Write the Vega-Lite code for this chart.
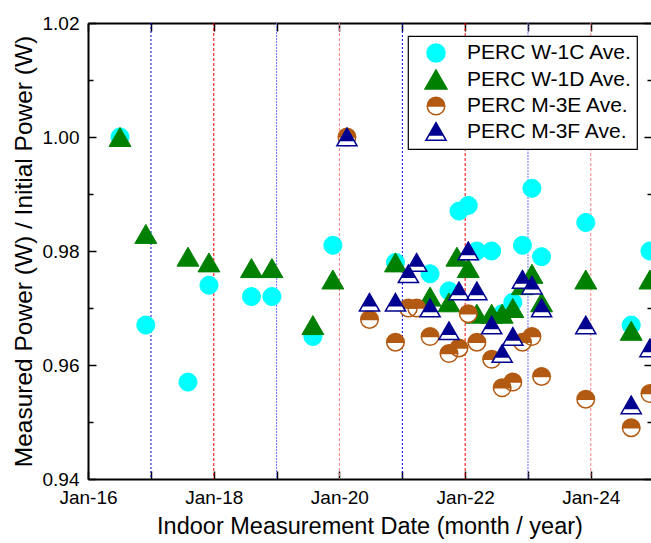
{
  "$schema": "https://vega.github.io/schema/vega-lite/v6.json",
  "width": 563,
  "height": 456,
  "autosize": {"type": "none"},
  "padding": {"left": 88, "top": 23, "right": 0, "bottom": 64},
  "background": "white",
  "config": {
    "view": {"stroke": null},
    "font": "Liberation Sans",
    "axis": {
      "grid": false,
      "domainColor": "black",
      "domainWidth": 2,
      "tickColor": "black",
      "tickWidth": 1.5,
      "labelColor": "black",
      "titleColor": "black",
      "labelFont": "Liberation Sans",
      "titleFont": "Liberation Sans",
      "titleFontWeight": "normal",
      "labelFontSize": 19,
      "labelFlush": false,
      "labelOverlap": false
    },
    "legend": {
      "orient": "none",
      "legendX": 320,
      "legendY": 13,
      "strokeColor": "black",
      "strokeWidth": 1.2,
      "fillColor": "white",
      "padding": 5,
      "rowPadding": 1.5,
      "labelFont": "Liberation Sans",
      "labelFontSize": 21,
      "labelColor": "black",
      "labelLimit": 400,
      "symbolSize": 480,
      "symbolStrokeWidth": 1.5,
      "symbolOffset": 11,
      "labelOffset": 19,
      "cornerRadius": 0
    }
  },
  "datasets": {
    "pts": [
      {"series": "PERC W-1C Ave.", "date": "2016-07-05", "value": 1.000},
      {"series": "PERC W-1C Ave.", "date": "2016-12-02", "value": 0.967},
      {"series": "PERC W-1C Ave.", "date": "2017-08-04", "value": 0.957},
      {"series": "PERC W-1C Ave.", "date": "2017-12-04", "value": 0.974},
      {"series": "PERC W-1C Ave.", "date": "2018-08-08", "value": 0.972},
      {"series": "PERC W-1C Ave.", "date": "2018-12-05", "value": 0.972},
      {"series": "PERC W-1C Ave.", "date": "2019-07-31", "value": 0.965},
      {"series": "PERC W-1C Ave.", "date": "2019-11-24", "value": 0.981},
      {"series": "PERC W-1C Ave.", "date": "2020-11-22", "value": 0.978},
      {"series": "PERC W-1C Ave.", "date": "2021-06-11", "value": 0.976},
      {"series": "PERC W-1C Ave.", "date": "2021-09-29", "value": 0.973},
      {"series": "PERC W-1C Ave.", "date": "2021-11-26", "value": 0.987},
      {"series": "PERC W-1C Ave.", "date": "2022-01-19", "value": 0.988},
      {"series": "PERC W-1C Ave.", "date": "2022-03-10", "value": 0.980},
      {"series": "PERC W-1C Ave.", "date": "2022-06-04", "value": 0.980},
      {"series": "PERC W-1C Ave.", "date": "2022-08-04", "value": 0.969},
      {"series": "PERC W-1C Ave.", "date": "2022-10-05", "value": 0.971},
      {"series": "PERC W-1C Ave.", "date": "2022-11-30", "value": 0.981},
      {"series": "PERC W-1C Ave.", "date": "2023-01-24", "value": 0.991},
      {"series": "PERC W-1C Ave.", "date": "2023-03-21", "value": 0.979},
      {"series": "PERC W-1C Ave.", "date": "2023-12-03", "value": 0.985},
      {"series": "PERC W-1C Ave.", "date": "2024-08-23", "value": 0.967},
      {"series": "PERC W-1C Ave.", "date": "2024-12-10", "value": 0.980},
      {"series": "PERC W-1D Ave.", "date": "2016-07-05", "value": 1.000},
      {"series": "PERC W-1D Ave.", "date": "2016-12-02", "value": 0.983},
      {"series": "PERC W-1D Ave.", "date": "2017-08-04", "value": 0.979},
      {"series": "PERC W-1D Ave.", "date": "2017-12-04", "value": 0.978},
      {"series": "PERC W-1D Ave.", "date": "2018-08-08", "value": 0.977},
      {"series": "PERC W-1D Ave.", "date": "2018-12-05", "value": 0.977},
      {"series": "PERC W-1D Ave.", "date": "2019-07-31", "value": 0.967},
      {"series": "PERC W-1D Ave.", "date": "2019-11-24", "value": 0.975},
      {"series": "PERC W-1D Ave.", "date": "2020-11-22", "value": 0.978},
      {"series": "PERC W-1D Ave.", "date": "2021-06-11", "value": 0.972},
      {"series": "PERC W-1D Ave.", "date": "2021-09-29", "value": 0.971},
      {"series": "PERC W-1D Ave.", "date": "2021-11-14", "value": 0.979},
      {"series": "PERC W-1D Ave.", "date": "2022-01-19", "value": 0.977},
      {"series": "PERC W-1D Ave.", "date": "2022-03-10", "value": 0.969},
      {"series": "PERC W-1D Ave.", "date": "2022-06-04", "value": 0.969},
      {"series": "PERC W-1D Ave.", "date": "2022-08-04", "value": 0.969},
      {"series": "PERC W-1D Ave.", "date": "2022-10-05", "value": 0.970},
      {"series": "PERC W-1D Ave.", "date": "2022-11-30", "value": 0.974},
      {"series": "PERC W-1D Ave.", "date": "2023-01-24", "value": 0.976},
      {"series": "PERC W-1D Ave.", "date": "2023-03-21", "value": 0.971},
      {"series": "PERC W-1D Ave.", "date": "2023-12-03", "value": 0.975},
      {"series": "PERC W-1D Ave.", "date": "2024-08-23", "value": 0.966},
      {"series": "PERC W-1D Ave.", "date": "2024-12-10", "value": 0.975},
      {"series": "PERC M-3E Ave.", "date": "2020-02-14", "value": 1.000},
      {"series": "PERC M-3E Ave.", "date": "2020-06-24", "value": 0.968},
      {"series": "PERC M-3E Ave.", "date": "2020-11-22", "value": 0.964},
      {"series": "PERC M-3E Ave.", "date": "2021-02-05", "value": 0.970},
      {"series": "PERC M-3E Ave.", "date": "2021-03-25", "value": 0.970},
      {"series": "PERC M-3E Ave.", "date": "2021-06-11", "value": 0.965},
      {"series": "PERC M-3E Ave.", "date": "2021-09-29", "value": 0.962},
      {"series": "PERC M-3E Ave.", "date": "2021-11-26", "value": 0.963},
      {"series": "PERC M-3E Ave.", "date": "2022-01-19", "value": 0.969},
      {"series": "PERC M-3E Ave.", "date": "2022-03-10", "value": 0.964},
      {"series": "PERC M-3E Ave.", "date": "2022-06-04", "value": 0.961},
      {"series": "PERC M-3E Ave.", "date": "2022-08-04", "value": 0.956},
      {"series": "PERC M-3E Ave.", "date": "2022-10-05", "value": 0.957},
      {"series": "PERC M-3E Ave.", "date": "2022-11-30", "value": 0.964},
      {"series": "PERC M-3E Ave.", "date": "2023-01-24", "value": 0.965},
      {"series": "PERC M-3E Ave.", "date": "2023-03-21", "value": 0.958},
      {"series": "PERC M-3E Ave.", "date": "2023-12-03", "value": 0.954},
      {"series": "PERC M-3E Ave.", "date": "2024-08-23", "value": 0.949},
      {"series": "PERC M-3E Ave.", "date": "2024-12-10", "value": 0.955},
      {"series": "PERC M-3F Ave.", "date": "2020-02-14", "value": 1.000},
      {"series": "PERC M-3F Ave.", "date": "2020-06-24", "value": 0.971},
      {"series": "PERC M-3F Ave.", "date": "2020-11-22", "value": 0.971},
      {"series": "PERC M-3F Ave.", "date": "2021-02-05", "value": 0.976},
      {"series": "PERC M-3F Ave.", "date": "2021-03-25", "value": 0.978},
      {"series": "PERC M-3F Ave.", "date": "2021-06-11", "value": 0.970},
      {"series": "PERC M-3F Ave.", "date": "2021-09-29", "value": 0.966},
      {"series": "PERC M-3F Ave.", "date": "2021-11-26", "value": 0.973},
      {"series": "PERC M-3F Ave.", "date": "2022-01-19", "value": 0.980},
      {"series": "PERC M-3F Ave.", "date": "2022-03-10", "value": 0.973},
      {"series": "PERC M-3F Ave.", "date": "2022-06-04", "value": 0.967},
      {"series": "PERC M-3F Ave.", "date": "2022-08-04", "value": 0.962},
      {"series": "PERC M-3F Ave.", "date": "2022-10-05", "value": 0.965},
      {"series": "PERC M-3F Ave.", "date": "2022-11-30", "value": 0.975},
      {"series": "PERC M-3F Ave.", "date": "2023-01-24", "value": 0.974},
      {"series": "PERC M-3F Ave.", "date": "2023-03-21", "value": 0.970},
      {"series": "PERC M-3F Ave.", "date": "2023-12-03", "value": 0.967},
      {"series": "PERC M-3F Ave.", "date": "2024-08-23", "value": 0.953},
      {"series": "PERC M-3F Ave.", "date": "2024-12-10", "value": 0.963}
    ]
  },
  "layer": [
    {
      "data": {"values": [{"date": "2017-01-01"}, {"date": "2021-01-01"}]},
      "mark": {"type": "rule", "color": "#0000dd", "strokeWidth": 1, "strokeDash": [2, 2]},
      "encoding": {
        "x": {"field": "date", "type": "temporal", "axis": null,
              "scale": {"type": "utc", "domain": [{"year": 2016, "month": 1, "date": 1, "utc": true}, {"year": 2024, "month": 12, "date": 16, "utc": true}]}}
      }
    },
    {
      "data": {"values": [{"date": "2019-01-01"}, {"date": "2023-01-01"}]},
      "mark": {"type": "rule", "color": "#7070ff", "strokeWidth": 1, "strokeDash": [2, 1]},
      "encoding": {"x": {"field": "date", "type": "temporal", "axis": null}}
    },
    {
      "data": {"values": [{"date": "2018-01-01"}, {"date": "2022-01-01"}]},
      "mark": {"type": "rule", "color": "#ff0000", "strokeWidth": 1, "strokeDash": [3, 2]},
      "encoding": {"x": {"field": "date", "type": "temporal", "axis": null}}
    },
    {
      "data": {"values": [{"date": "2020-01-01"}, {"date": "2024-01-01"}]},
      "mark": {"type": "rule", "color": "#ff7f7f", "strokeWidth": 1, "strokeDash": [3, 2]},
      "encoding": {"x": {"field": "date", "type": "temporal", "axis": null}}
    },
    {
      "data": {"name": "pts"},
      "transform": [{"filter": "datum.series === 'PERC W-1C Ave.'"}],
      "mark": {"type": "point", "filled": true, "size": 480, "strokeWidth": 1, "opacity": 1},
      "encoding": {
        "x": {"field": "date", "type": "temporal",
              "axis": {"orient": "bottom", "title": "Indoor Measurement Date (month / year)", "titleFontSize": 23.5, "titlePadding": 7,
                       "values": [{"year": 2016, "month": 1, "date": 1, "utc": true}, {"year": 2017, "month": 1, "date": 1, "utc": true}, {"year": 2018, "month": 1, "date": 1, "utc": true}, {"year": 2019, "month": 1, "date": 1, "utc": true}, {"year": 2020, "month": 1, "date": 1, "utc": true}, {"year": 2021, "month": 1, "date": 1, "utc": true}, {"year": 2022, "month": 1, "date": 1, "utc": true}, {"year": 2023, "month": 1, "date": 1, "utc": true}, {"year": 2024, "month": 1, "date": 1, "utc": true}],
                       "labelExpr": "utcyear(datum.value) % 2 == 0 ? utcFormat(datum.value, '%b-%y') : ''",
                       "tickSize": -8, "labelPadding": 17, "labelBaseline": "top"}},
        "y": {"field": "value", "type": "quantitative",
              "scale": {"domain": [0.94, 1.02], "zero": false, "nice": false},
              "axis": {"orient": "left", "title": "Measured Power (W) / Initial Power (W)", "titleFontSize": 24.5, "titlePadding": 6,
                       "values": [0.94, 0.95, 0.96, 0.97, 0.98, 0.99, 1.0, 1.01, 1.02],
                       "labelExpr": "round(datum.value * 100) % 2 == 0 ? format(datum.value, '.2f') : ''",
                       "tickSize": {"condition": {"test": "round(datum.value * 100) % 2 == 0", "value": -8}, "value": -5},
                       "labelPadding": 17}},
        "fill": {"field": "series", "type": "nominal",
                 "scale": {"domain": ["PERC W-1C Ave.", "PERC W-1D Ave.", "PERC M-3E Ave.", "PERC M-3F Ave."], "range": ["#00ffff", "#008000", "#b35a12", "#000090"]},
                 "legend": {"title": null}},
        "stroke": {"field": "series", "type": "nominal",
                   "scale": {"domain": ["PERC W-1C Ave.", "PERC W-1D Ave.", "PERC M-3E Ave.", "PERC M-3F Ave."], "range": ["#00ffff", "#008000", "#b35a12", "#000090"]},
                   "legend": {"title": null}},
        "shape": {"field": "series", "type": "nominal",
                  "scale": {"domain": ["PERC W-1C Ave.", "PERC W-1D Ave.", "PERC M-3E Ave.", "PERC M-3F Ave."],
                            "range": ["M-0.82,0A0.82,0.82,0,1,1,0.82,0A0.82,0.82,0,1,1,-0.82,0Z",
                                      "M0,-0.866L1,0.866L-1,0.866Z",
                                      "M-0.8,0A0.8,0.8,0,0,1,0.8,0ZM0.8,0A0.8,0.8,0,0,1,-0.8,0A0.8,0.8,0,0,0,0.8,0",
                                      "M0,-0.8L0.92,0.8L-0.92,0.8L0,-0.8L-0.92,0.8L0.92,0.8L0,-0.8M0,-0.8L0.644,0.32L-0.644,0.32Z"]},
                  "legend": {"title": null}}
      }
    },
    {
      "data": {"name": "pts"},
      "transform": [{"filter": "datum.series === 'PERC W-1D Ave.'"}],
      "mark": {"type": "point", "filled": true, "size": 480, "strokeWidth": 1, "opacity": 1},
      "encoding": {
        "x": {"field": "date", "type": "temporal",
              "axis": {"orient": "top", "title": null, "labels": false, "domain": true,
                       "values": [{"year": 2016, "month": 1, "date": 1, "utc": true}, {"year": 2017, "month": 1, "date": 1, "utc": true}, {"year": 2018, "month": 1, "date": 1, "utc": true}, {"year": 2019, "month": 1, "date": 1, "utc": true}, {"year": 2020, "month": 1, "date": 1, "utc": true}, {"year": 2021, "month": 1, "date": 1, "utc": true}, {"year": 2022, "month": 1, "date": 1, "utc": true}, {"year": 2023, "month": 1, "date": 1, "utc": true}, {"year": 2024, "month": 1, "date": 1, "utc": true}],
                       "tickSize": -8}},
        "y": {"field": "value", "type": "quantitative",
              "axis": {"orient": "right", "title": null, "labels": false, "domain": false,
                       "values": [0.94, 0.95, 0.96, 0.97, 0.98, 0.99, 1.0, 1.01, 1.02],
                       "tickSize": {"condition": {"test": "round(datum.value * 100) % 2 == 0", "value": -7}, "value": -4}}},
        "fill": {"field": "series", "type": "nominal"},
        "stroke": {"field": "series", "type": "nominal"},
        "shape": {"field": "series", "type": "nominal"}
      }
    },
    {
      "data": {"name": "pts"},
      "transform": [{"filter": "datum.series === 'PERC M-3E Ave.'"}],
      "mark": {"type": "point", "filled": true, "size": 480, "fill": "white", "strokeWidth": 0, "opacity": 1,
               "shape": "M-0.8,0A0.8,0.8,0,1,1,0.8,0A0.8,0.8,0,1,1,-0.8,0Z"},
      "encoding": {
        "x": {"field": "date", "type": "temporal", "axis": null},
        "y": {"field": "value", "type": "quantitative", "axis": null}
      }
    },
    {
      "data": {"name": "pts"},
      "transform": [{"filter": "datum.series === 'PERC M-3E Ave.'"}],
      "mark": {"type": "point", "filled": true, "size": 480, "strokeWidth": 1.5, "opacity": 1},
      "encoding": {
        "x": {"field": "date", "type": "temporal", "axis": null},
        "y": {"field": "value", "type": "quantitative", "axis": null},
        "fill": {"field": "series", "type": "nominal"},
        "stroke": {"field": "series", "type": "nominal"},
        "shape": {"field": "series", "type": "nominal"}
      }
    },
    {
      "data": {"name": "pts"},
      "transform": [{"filter": "datum.series === 'PERC M-3F Ave.'"}],
      "mark": {"type": "point", "filled": true, "size": 480, "fill": "white", "strokeWidth": 0, "opacity": 1,
               "shape": "M0,-0.8L0.92,0.8L-0.92,0.8Z"},
      "encoding": {
        "x": {"field": "date", "type": "temporal", "axis": null},
        "y": {"field": "value", "type": "quantitative", "axis": null}
      }
    },
    {
      "data": {"name": "pts"},
      "transform": [{"filter": "datum.series === 'PERC M-3F Ave.'"}],
      "mark": {"type": "point", "filled": true, "size": 480, "strokeWidth": 1.5, "opacity": 1},
      "encoding": {
        "x": {"field": "date", "type": "temporal", "axis": null},
        "y": {"field": "value", "type": "quantitative", "axis": null},
        "fill": {"field": "series", "type": "nominal"},
        "stroke": {"field": "series", "type": "nominal"},
        "shape": {"field": "series", "type": "nominal"}
      }
    }
  ],
  "resolve": {"axis": {"x": "independent", "y": "independent"}}
}
